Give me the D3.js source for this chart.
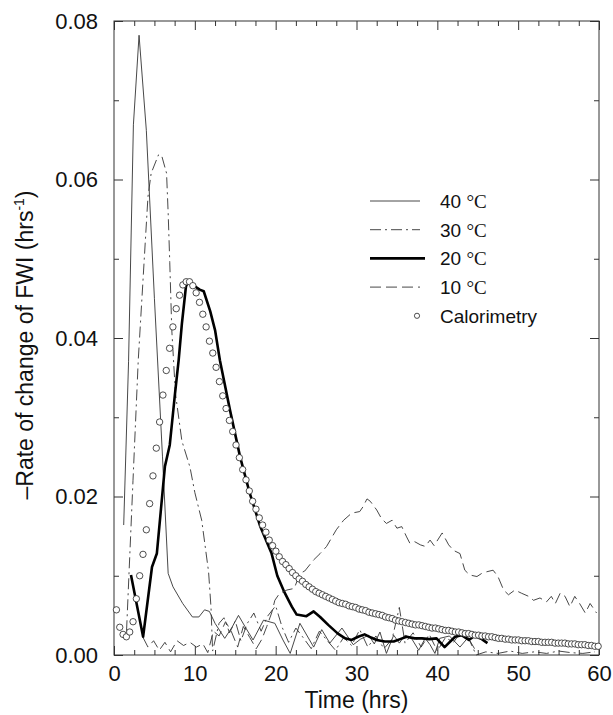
<!DOCTYPE html>
<html lang="en">
<meta charset="utf-8">
<script src="https://d3js.org/d3.v7.min.js"></script>
<head>
    <style type="text/css">
        body { margin: 0; background: white; }
        text { font-family: "Liberation Sans", Arial, sans-serif; fill: #111; }
        .tick text { font-size: 22px; }
        .tick line { stroke: #333; stroke-width: 1; }
    </style>
</head>
<body>
<div id="chart"></div>
<script>

    // ---- data ----
    const t40 = [1.2, 1.8, 2.4, 3.1, 4.0, 5.0, 6.0, 6.7, 7.3, 8.5, 9.7, 10.5, 11.2, 11.8, 12.5, 13.7, 14.6, 15.4, 16.2, 17.2,
        18.5, 19.9, 20.9, 21.8, 23.0, 24.7, 25.7, 26.7, 28.2, 29.6, 30.5, 31.5, 32.2, 32.9, 33.7, 34.6, 35.3, 36.0, 36.8, 37.7,
        38.5, 39.1, 39.7, 40.3, 41.5, 42.8, 43.8, 44.6];
    const r40 = [0.0164, 0.037, 0.0669, 0.0782, 0.0662, 0.045, 0.025, 0.0103, 0.0086, 0.0065, 0.0048, 0.0048, 0.0057, 0.0055, 0.0040, 0.0021, 0.0035, 0.0050, 0.0036, 0.0019,
        0.0044, 0.0040, 0.0019, 0.0002, 0.0040, 0.0010, 0.0032, 0.0015, 0.0034, 0.0013, 0.0020, 0.0025, 0.0014, 0.0029, 0.0002, 0.0025, 0.0015, 0.0025, 0.0021, 0.0006,
        0.0021, 0.0013, 0.0002, 0.0021, 0.0024, 0.0010, 0.0022, 0.0008];

    const t30 = [1.55, 2.35, 3.0, 4.2, 4.6, 5.5, 5.9, 6.5, 6.7, 6.9, 7.15, 7.6, 8.4, 9.4, 10.0, 10.85, 11.7, 12.0, 12.2, 13.0,
        13.6, 14.3, 15.0, 15.7, 16.5, 17.3, 18.2, 19.0, 20.0, 20.8, 21.6, 22.5, 23.4, 24.4, 25.4, 26.4, 27.4, 28.4, 29.4, 30.4,
        31.4, 32.4, 33.4, 34.4, 35.3, 36.0, 37.0, 38.0, 39.0, 40.0, 41.0, 42.0, 43.0, 44.0, 44.8, 46.0, 47.5, 49.0, 50.5, 52.0,
        53.5, 55.0, 56.5, 58.0, 59.5];
    const r30 = [0.0030, 0.022, 0.0372, 0.0578, 0.0608, 0.0631, 0.0630, 0.0608, 0.0558, 0.0495, 0.041, 0.033, 0.027, 0.0237, 0.0205, 0.017, 0.0105, 0.006, 0.0005, 0.0040,
        0.0047, 0.0028, 0.0043, 0.0018, 0.0040, 0.0053, 0.0030, 0.0049, 0.0062, 0.0035, 0.0016, 0.0034, 0.0022, 0.0008, 0.0030, 0.0018, 0.0006, 0.0022, 0.0012, 0.0032,
        0.0010, 0.0024, 0.0008, 0.0020, 0.0060, 0.0015, 0.0028, 0.0010, 0.0026, 0.0005, 0.0022, 0.0016, 0.0030, 0.0018, 0.0000, 0.0004, 0.0002, 0.0005, 0.0002, 0.0004,
        0.0002, 0.0005, 0.0003, 0.0002, 0.0004];

    const t20 = [2.1, 3.6, 4.7, 5.3, 6.3, 6.9, 7.55, 8.0, 8.4, 8.9, 9.2, 9.9, 10.6, 11.1, 11.9, 12.5, 13.1, 14.35, 15.6, 16.8,
        18.1, 19.5, 20.2, 21.0, 21.6, 22.0, 22.6, 23.8, 24.7, 25.5, 26.5, 27.7, 28.6, 29.4, 30.2, 31.0, 31.8, 32.5, 33.5, 34.6,
        35.4, 36.2, 37.2, 38.1, 39.0, 39.9, 40.9, 42.2, 43.0, 43.9, 44.6, 45.5, 46.2];
    const r20 = [0.0101, 0.0023, 0.0111, 0.0128, 0.0238, 0.0265, 0.033, 0.0372, 0.0418, 0.0465, 0.0472, 0.0466, 0.0461, 0.0459, 0.0434, 0.0410, 0.0372, 0.0309, 0.0250, 0.0204,
        0.0162, 0.0128, 0.0100, 0.0081, 0.0069, 0.0061, 0.0051, 0.0049, 0.0055, 0.0048, 0.0038, 0.0027, 0.0021, 0.0019, 0.0023, 0.0026, 0.0022, 0.0019, 0.0017, 0.0017,
        0.0020, 0.0023, 0.0021, 0.0021, 0.0020, 0.0021, 0.0010, 0.0023, 0.0025, 0.0019, 0.0024, 0.0020, 0.0015];

    const t10 = [3.6, 4.2, 4.9, 5.6, 6.3, 7.0, 7.8, 8.6, 9.4, 10.2, 11.0, 11.6, 12.3, 13.0, 13.8, 14.5, 15.3, 16.0, 16.8, 17.6,
        18.3, 18.9, 19.5, 19.9, 20.5, 21.4, 22.3, 23.0, 23.6, 24.7, 25.5, 26.3, 27.5, 28.4, 29.4, 30.4, 30.8, 31.3, 31.7, 32.5,
        33.1, 33.7, 34.4, 35.0, 35.6, 36.2, 36.6, 37.2, 37.9, 38.5, 39.1, 39.6, 40.6, 41.4, 42.0, 42.8, 43.4, 44.0, 44.9, 45.5,
        46.1, 46.9, 47.5, 48.2, 48.8, 49.6, 50.4, 51.3, 51.9, 52.7, 53.5, 54.1, 54.6, 55.2, 55.8, 56.4, 57.0, 57.6, 58.3, 58.9,
        59.7];
    const r10 = [0.0022, 0.0010, 0.0018, 0.0006, 0.0016, 0.0004, 0.0018, 0.0012, 0.0016, 0.0010, 0.0014, 0.0003, 0.0030, 0.0024, 0.0042, 0.0030, 0.0010, 0.0036, 0.0022, 0.0008,
        0.0020, 0.0036, 0.0053, 0.0069, 0.0078, 0.0082, 0.0084, 0.0103, 0.0106, 0.0120, 0.0128, 0.0137, 0.0158, 0.0170, 0.0179, 0.0181, 0.0187, 0.0197, 0.0194, 0.0183,
        0.0172, 0.0166, 0.0170, 0.0160, 0.0162, 0.0149, 0.0141, 0.0143, 0.0139, 0.0137, 0.0145, 0.0138, 0.0154, 0.0139, 0.0132, 0.0128, 0.0107, 0.0101, 0.0099, 0.0103,
        0.0105, 0.0107, 0.0099, 0.0082, 0.0076, 0.0082, 0.0078, 0.0074, 0.0069, 0.0072, 0.0067, 0.0074, 0.0065, 0.0078, 0.0074, 0.0061, 0.0074, 0.0065, 0.0053, 0.0065,
        0.0053];

    // calorimetry: one reading every 0.411 hrs starting at 0.3 hrs
    const calStart = 0.3, calStep = 0.411;
    const calRate = [0.0057, 0.0035, 0.0026, 0.0023, 0.0029, 0.0042, 0.0071, 0.0100, 0.0127, 0.0158,
        0.0191, 0.0226, 0.0261, 0.0294, 0.0328, 0.0359, 0.0387, 0.0414, 0.0437, 0.0454,
        0.0467, 0.0471, 0.0471, 0.0466, 0.0457, 0.0445, 0.0430, 0.0414, 0.0396, 0.0381,
        0.0363, 0.0345, 0.0327, 0.0311, 0.0296, 0.0282, 0.0265, 0.0249, 0.0234, 0.0221,
        0.0207, 0.0194, 0.0184, 0.0173, 0.0164, 0.0155, 0.0145, 0.0138, 0.0131, 0.0124,
        0.0118, 0.0114, 0.0109, 0.0104, 0.0100, 0.0096, 0.0093, 0.0089, 0.0086, 0.0083,
        0.0080, 0.0078, 0.0076, 0.0074, 0.0072, 0.0070, 0.0068, 0.0066, 0.0065, 0.0064,
        0.0062, 0.0061, 0.0060, 0.0058, 0.0057, 0.0056, 0.0054, 0.0053, 0.0052, 0.0051,
        0.0050, 0.0048, 0.0047, 0.0046, 0.0044, 0.0043, 0.0042, 0.0041, 0.0040, 0.0039,
        0.0038, 0.0038, 0.0037, 0.0036, 0.0035, 0.0034, 0.0034, 0.0033, 0.0032, 0.0031,
        0.0031, 0.0030, 0.0029, 0.0029, 0.0028, 0.0027, 0.0027, 0.0026, 0.0025, 0.0025,
        0.0024, 0.0024, 0.0023, 0.0023, 0.0022, 0.0021, 0.0021, 0.0020, 0.0020, 0.0019,
        0.0019, 0.0019, 0.0018, 0.0018, 0.0018, 0.0017, 0.0017, 0.0017, 0.0016, 0.0016,
        0.0016, 0.0016, 0.0015, 0.0015, 0.0015, 0.0015, 0.0014, 0.0014, 0.0014, 0.0013,
        0.0013, 0.0013, 0.0012, 0.0012, 0.0011, 0.0011];

    const xTicks = [0, 10, 20, 30, 40, 50, 60];
    const yTicks = [0.00, 0.02, 0.04, 0.06, 0.08];
    const legendNames = ["40 \u00B0C", "30 \u00B0C", "20 \u00B0C", "10 \u00B0C", "Calorimetry"];

    // ---- layout ----
    const margin = { top: 21, right: 14, bottom: 60, left: 114 },
        width = 613 - margin.left - margin.right,
        height = 715 - margin.top - margin.bottom;

    const svg = d3.select("#chart")
        .append("svg")
        .attr("width", 613)
        .attr("height", 715)
        .append("g")
        .attr("transform", `translate(${margin.left}, ${margin.top})`);

    const x = d3.scaleLinear().domain([0, 60]).range([0, width]);
    const y = d3.scaleLinear().domain([0, 0.08]).range([height, 0]);

    // minor ticks every 2.5 hrs / 0.01, major ones longer; all point inward
    const xMinor = d3.range(0, 60.01, 2.5).filter(v => v % 10 !== 0);
    const yMinor = [0.01, 0.03, 0.05, 0.07];

    svg.append("g").attr("transform", `translate(0, ${height})`)
        .call(d3.axisBottom(x).tickValues(xTicks).tickFormat(d3.format("d")).tickSize(-9).tickPadding(10));
    svg.append("g").attr("transform", `translate(0, ${height})`)
        .call(d3.axisBottom(x).tickValues(xMinor).tickFormat("").tickSize(-5));
    svg.append("g")
        .call(d3.axisTop(x).tickValues(xTicks).tickFormat("").tickSize(-9));
    svg.append("g")
        .call(d3.axisTop(x).tickValues(xMinor).tickFormat("").tickSize(-5));

    svg.append("g")
        .call(d3.axisLeft(y).tickValues(yTicks).tickFormat(d3.format(".2f")).tickSize(-9).tickPadding(16));
    svg.append("g")
        .call(d3.axisLeft(y).tickValues(yMinor).tickFormat("").tickSize(-5));
    svg.append("g").attr("transform", `translate(${width}, 0)`)
        .call(d3.axisRight(y).tickValues(yTicks).tickFormat("").tickSize(-9));
    svg.append("g").attr("transform", `translate(${width}, 0)`)
        .call(d3.axisRight(y).tickValues(yMinor).tickFormat("").tickSize(-5));

    svg.selectAll(".domain").remove();

    svg.append("rect")
        .attr("width", width)
        .attr("height", height)
        .attr("fill", "none")
        .attr("stroke", "#333")
        .attr("stroke-width", 1);

    // axis titles
    svg.append("text")
        .attr("x", width / 2)
        .attr("y", height + 53)
        .attr("text-anchor", "middle")
        .style("font-size", "23px")
        .text("Time (hrs)");

    const yl = svg.append("text")
        .attr("transform", `translate(${33 - margin.left}, ${345 - margin.top}) rotate(-90)`)
        .attr("text-anchor", "middle")
        .style("font-size", "23px");
    yl.append("tspan").text("\u2013Rate of change of FWI (hrs");
    yl.append("tspan").attr("dy", -9).style("font-size", "14px").text("-1");
    yl.append("tspan").attr("dy", 9).text(")");

    // ---- series ----
    const line = d3.line().x(d => x(d[0])).y(d => y(d[1]));
    const zip = (ts, rs) => ts.map((t, i) => [t, rs[i]]);

    const series = [
        { name: legendNames[0], data: zip(t40, r40), width: 0.9, dash: null, color: "#333" },
        { name: legendNames[1], data: zip(t30, r30), width: 0.9, dash: "11,4,2,4", color: "#333" },
        { name: legendNames[2], data: zip(t20, r20), width: 2.6, dash: null, color: "#000" },
        { name: legendNames[3], data: zip(t10, r10), width: 0.9, dash: "11,5", color: "#333" }
    ];

    svg.selectAll("path.series")
        .data(series)
        .join("path")
        .attr("class", "series")
        .attr("d", d => line(d.data))
        .attr("fill", "none")
        .attr("stroke", d => d.color)
        .attr("stroke-width", d => d.width)
        .attr("stroke-dasharray", d => d.dash)
        .attr("stroke-linejoin", "round");

    svg.selectAll("circle.cal")
        .data(calRate)
        .join("circle")
        .attr("class", "cal")
        .attr("cx", (d, i) => x(calStart + i * calStep))
        .attr("cy", d => y(d))
        .attr("r", 3.2)
        .attr("fill", "white")
        .attr("stroke", "#222")
        .attr("stroke-width", 0.8);

    // ---- legend ----
    const legend = svg.append("g").attr("transform", `translate(${370 - margin.left}, ${201 - margin.top})`);
    series.forEach((s, i) => {
        legend.append("line")
            .attr("x1", 0).attr("x2", s.width > 2 ? 55 : 50)
            .attr("y1", i * 28.7).attr("y2", i * 28.7)
            .attr("stroke", s.color)
            .attr("stroke-width", s.width)
            .attr("stroke-dasharray", s.dash);
        const tx = legend.append("text")
            .attr("x", 70)
            .attr("y", i * 28.7 + 7)
            .style("font-size", "19px");
        tx.append("tspan").text(s.name.split(" ")[0] + " ");
        tx.append("tspan").style("font-family", "'Liberation Serif', serif").text(s.name.split(" ")[1]);
    });
    legend.append("circle")
        .attr("cx", 47).attr("cy", 4 * 28.7)
        .attr("r", 2.6)
        .attr("fill", "white")
        .attr("stroke", "#222")
        .attr("stroke-width", 0.8);
    legend.append("text")
        .attr("x", 70)
        .attr("y", 4 * 28.7 + 7)
        .style("font-size", "19px")
        .text(legendNames[4]);

</script>
</body>
</html>
